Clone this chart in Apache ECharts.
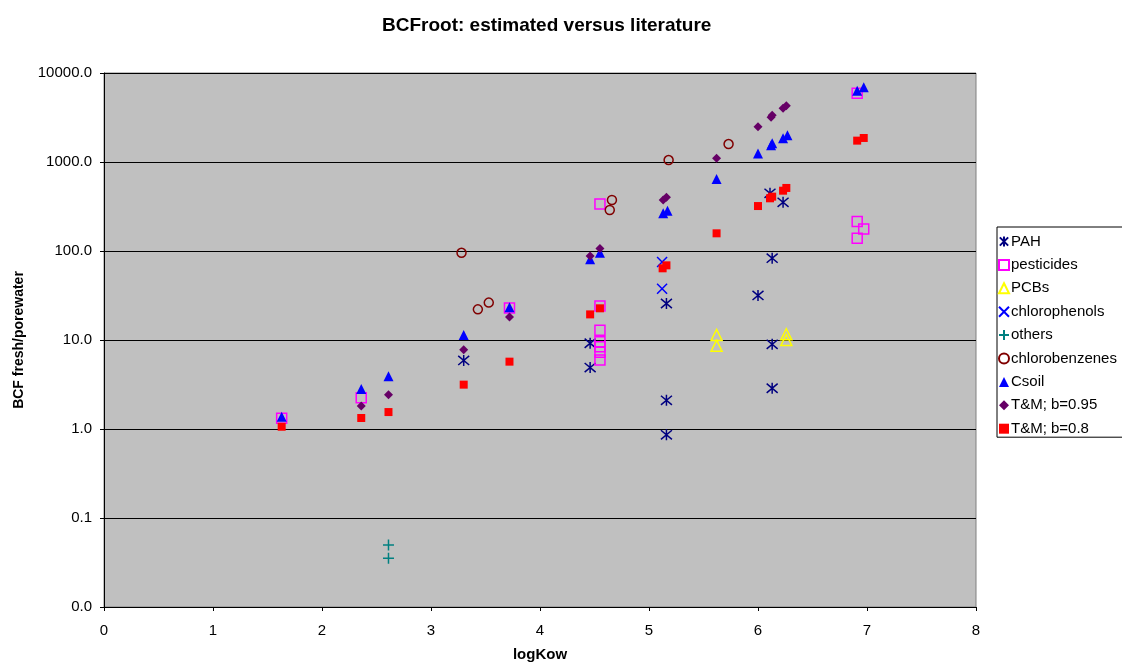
<!DOCTYPE html>
<html>
<head>
<meta charset="utf-8">
<script src="https://cdn.jsdelivr.net/npm/echarts@6/dist/echarts.min.js"></script>
<style>
  html, body { margin: 0; padding: 0; background: #fff; }
  #chart { width: 1122px; height: 662px; }
</style>
</head>
<body>
<div id="chart"></div>
<script>
// [logKow, BCF] pairs per group
var pah = [[3.30, 5.9], [4.46, 9.2], [4.46, 4.9], [5.16, 25.7], [5.16, 2.1], [5.16, 0.86],
  [6.00, 31.7], [6.11, 445], [6.23, 352], [6.13, 83], [6.13, 8.95], [6.13, 2.87]];
var pesticides = [[1.63, 1.32], [2.36, 2.25], [3.72, 22.9], [4.55, 337], [4.55, 24.1], [4.55, 12.9],
  [4.55, 9.57], [4.55, 8.4], [4.55, 7.28], [4.55, 5.96], [6.91, 5915], [6.91, 215], [6.97, 177], [6.91, 139]];
var pcbs = [[5.62, 11.4], [5.62, 8.63], [6.26, 11.6], [6.26, 10.0]];
var chlorophenols = [[5.12, 75.2], [5.12, 37.7]];
var others = [[2.61, 0.0498], [2.61, 0.0352]];
var chlorobenzenes = [[3.28, 95.5], [3.43, 22.1], [3.53, 26.3], [4.64, 289], [4.66, 374], [5.18, 1052], [5.73, 1590]];
var csoil = [[1.63, 1.37], [2.36, 2.81], [2.61, 3.91], [3.30, 11.4], [3.72, 23.3], [4.46, 80.6], [4.55, 95.5],
  [5.13, 265], [5.17, 284], [5.62, 644], [6.00, 1250], [6.12, 1540], [6.13, 1620], [6.23, 1846], [6.27, 1995],
  [6.91, 6300], [6.97, 6900]];
var tm095 = [[2.36, 1.81], [2.61, 2.43], [3.30, 7.78], [3.72, 18.1], [4.46, 87.9], [4.55, 107], [5.13, 374],
  [5.16, 401], [5.62, 1099], [6.00, 2494], [6.12, 3178], [6.13, 3350], [6.23, 4010], [6.26, 4295]];
var tm08 = [[1.63, 1.06], [2.36, 1.33], [2.61, 1.55], [3.30, 3.15], [3.72, 5.71], [4.46, 19.4], [4.55, 22.7],
  [5.125, 63.9], [5.16, 69], [5.62, 158], [6.00, 320], [6.11, 391], [6.13, 408], [6.23, 476], [6.26, 511],
  [6.91, 1738], [6.97, 1862]];

var xTicks = [0, 1, 2, 3, 4, 5, 6, 7, 8];
var yTicks = [0.01, 0.1, 1, 10, 100, 1000, 10000];

var FONT = 'Liberation Sans, Arial, sans-serif';
var CLEAR = 'rgba(0,0,0,0)';

function lineMarker(name, data, path, color, size) {
  return {
    name: name, type: 'scatter', data: data,
    symbol: path, symbolSize: size,
    itemStyle: { color: CLEAR, borderColor: color, borderWidth: 1.5, opacity: 1 }
  };
}
function hollowMarker(name, data, symbol, color, size) {
  return {
    name: name, type: 'scatter', data: data,
    symbol: symbol, symbolSize: size,
    itemStyle: { color: CLEAR, borderColor: color, borderWidth: 1.5, opacity: 1 }
  };
}
function solidMarker(name, data, symbol, color, size) {
  return {
    name: name, type: 'scatter', data: data,
    symbol: symbol, symbolSize: size,
    itemStyle: { color: color, opacity: 1 }
  };
}

var chart = echarts.init(document.getElementById('chart'));
chart.setOption({
  animation: false,
  backgroundColor: '#fff',
  title: {
    text: 'BCFroot: estimated versus literature',
    left: 377, top: 11,
    textStyle: { fontFamily: FONT, fontSize: 19, fontWeight: 'bold', color: '#000' }
  },
  legend: {
    orient: 'vertical',
    left: 997, top: 227,
    padding: [7, 12, 1, 1],
    itemGap: 8.4,
    itemWidth: 10, itemHeight: 10,
    backgroundColor: '#fff',
    borderColor: '#000', borderWidth: 1,
    textStyle: { fontFamily: FONT, fontSize: 15, color: '#000', padding: [0, 0, 0, -3] }
  },
  grid: {
    left: 104, right: 146, top: 73, bottom: 55,
    outerBoundsMode: 'none',
    show: true, backgroundColor: '#C0C0C0', borderColor: '#808080', borderWidth: 1
  },
  xAxis: {
    type: 'value', min: xTicks[0], max: xTicks[xTicks.length - 1], interval: 1,
    name: 'logKow', nameLocation: 'middle', nameGap: 40,
    nameTextStyle: { fontFamily: FONT, fontSize: 15, fontWeight: 'bold', color: '#000' },
    axisLine: { lineStyle: { color: '#000', width: 1 } },
    axisTick: { show: true, length: 4, lineStyle: { color: '#000' } },
    axisLabel: { fontFamily: FONT, fontSize: 15, color: '#000', margin: 16 },
    splitLine: { show: false }
  },
  yAxis: {
    type: 'log', logBase: 10, min: yTicks[0], max: yTicks[yTicks.length - 1],
    name: 'BCF fresh/porewater', nameLocation: 'middle', nameGap: 78,
    nameTextStyle: { fontFamily: FONT, fontSize: 14, fontWeight: 'bold', color: '#000' },
    axisLine: { show: true, lineStyle: { color: '#000', width: 1 } },
    axisTick: { show: true, length: 4, lineStyle: { color: '#000' } },
    axisLabel: {
      fontFamily: FONT, fontSize: 15, color: '#000', margin: 12,
      formatter: function (v) { return v.toFixed(1); }
    },
    minorTick: { show: false },
    splitLine: { show: true, lineStyle: { color: '#000', width: 1 } }
  },
  series: [
    lineMarker('PAH', pah, 'path://M0 0L10 10M10 0L0 10M5 -1L5 11', '#000080', 11),
    hollowMarker('pesticides', pesticides, 'rect', '#FF00FF', 10),
    hollowMarker('PCBs', pcbs, 'triangle', '#FFFF00', 11),
    lineMarker('chlorophenols', chlorophenols, 'path://M0 0L10 10M10 0L0 10', '#0000FF', 10),
    lineMarker('others', others, 'path://M5 0L5 10M0 5L10 5', '#008080', 11),
    hollowMarker('chlorobenzenes', chlorobenzenes, 'circle', '#800000', 9),
    solidMarker('Csoil', csoil, 'triangle', '#0000FF', 10),
    solidMarker('T&M; b=0.95', tm095, 'diamond', '#660066', 9),
    solidMarker('T&M; b=0.8', tm08, 'rect', '#FF0000', 8)
  ]
});
</script>
</body>
</html>
